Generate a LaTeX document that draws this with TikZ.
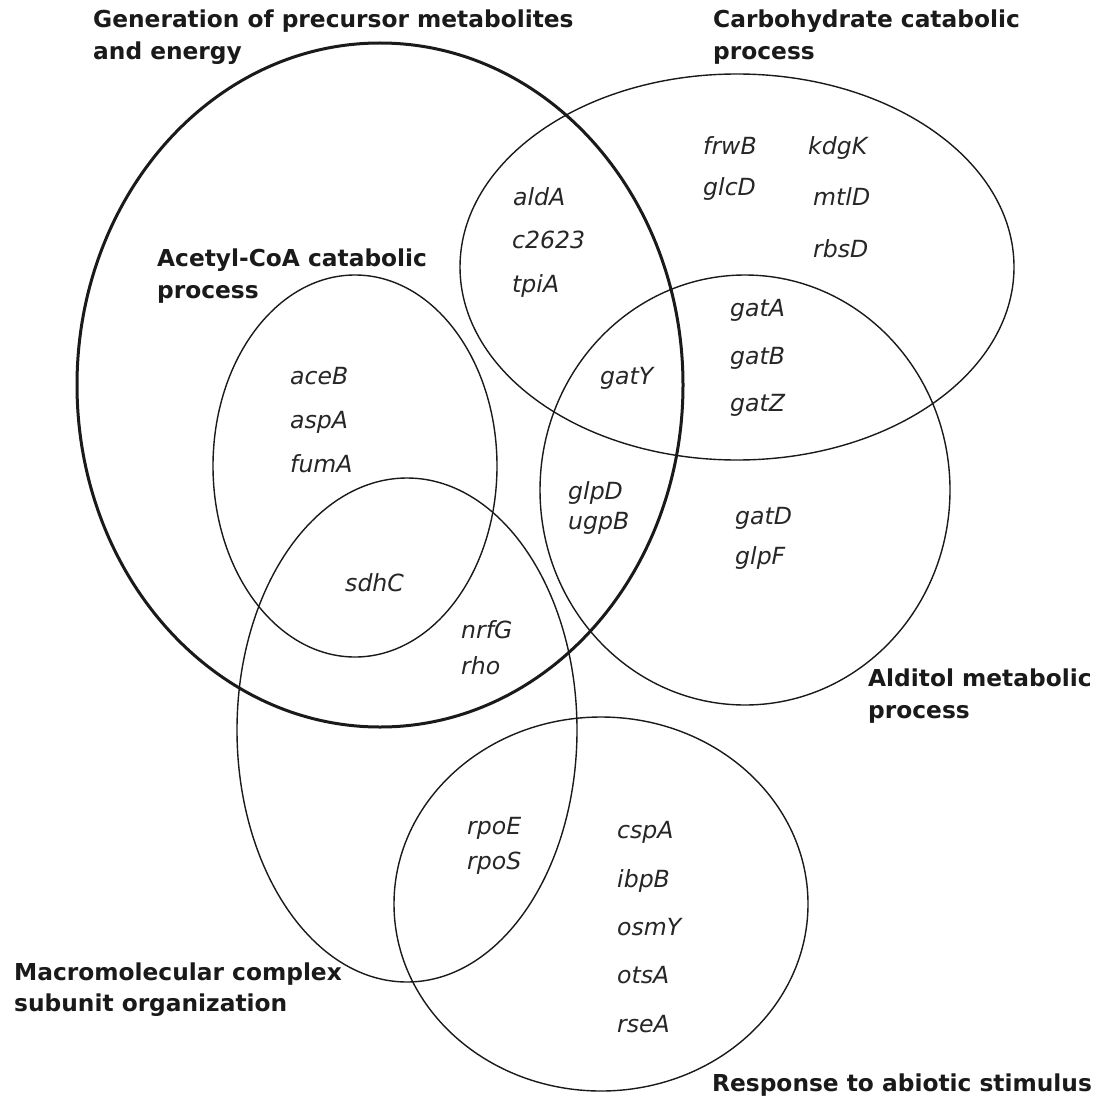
\documentclass[tikz,border=0pt]{standalone}
\usepackage{fontspec}
\setmainfont{DejaVu Sans}
\definecolor{ink}{HTML}{1A1A1A}
\definecolor{gene}{HTML}{262626}
\begin{document}
\begin{tikzpicture}[x=1pt,y=-1pt,
  setline/.style={draw=ink,line width=1.4pt},
  thickline/.style={draw=ink,line width=3pt},
  title/.style={anchor=base west,inner sep=0pt,text=ink,font=\fontsize{23.3}{28}\selectfont\bfseries},
  genelab/.style={anchor=base west,inner sep=0pt,text=gene,font=\fontsize{23.6}{28}\selectfont\itshape}]
\useasboundingbox[fill=white] (0,0) rectangle (1097,1102);
% centres
\coordinate (cGen) at (380,385);
\coordinate (cCarb) at (737,267);
\coordinate (cAce) at (355,466);
\coordinate (cAld) at (745,490);
\coordinate (cMac) at (407,730);
\coordinate (cResp) at (601,904);
% sets
\draw[thickline] (cGen) ellipse [x radius=303pt, y radius=342pt];
\draw[setline] (cCarb) ellipse [x radius=277pt, y radius=193pt];
\draw[setline] (cAce) ellipse [x radius=142pt, y radius=191pt];
\draw[setline] (cAld) ellipse [x radius=205pt, y radius=215pt];
\draw[setline] (cMac) ellipse [x radius=170pt, y radius=252pt];
\draw[setline] (cResp) ellipse [x radius=207pt, y radius=187pt];
% titles
\node[title] (tGenA) at (93,28) {Generation of precursor metabolites};
\node[title] (tGenB) at (93,60) {and energy};
\node[title] (tCarbA) at (713,28) {Carbohydrate catabolic};
\node[title] (tCarbB) at (713,60) {process};
\node[title] (tAceA) at (157,266) {Acetyl-CoA catabolic};
\node[title] (tAceB) at (157,298) {process};
\node[title] (tAldA) at (868,686) {Alditol metabolic};
\node[title] (tAldB) at (868,718) {process};
\node[title] (tMacA) at (14,980) {Macromolecular complex};
\node[title] (tMacB) at (14,1011) {subunit organization};
\node[title] (tResp) at (712,1091) {Response to abiotic stimulus};
% genes
\node[genelab] (frwB) at (703,155) {frwB};
\node[genelab] (glcD) at (703,196) {glcD};
\node[genelab] (kdgK) at (808,155) {kdgK};
\node[genelab] (mtlD) at (813,205) {mtlD};
\node[genelab] (rbsD) at (813,257) {rbsD};
\node[genelab] (aldA) at (513,205) {aldA};
\node[genelab] (c2623) at (512,248) {c2623};
\node[genelab] (tpiA) at (512,292) {tpiA};
\node[genelab] (gatA) at (730,316) {gatA};
\node[genelab] (gatB) at (730,364) {gatB};
\node[genelab] (gatZ) at (730,411) {gatZ};
\node[genelab] (gatY) at (600,384) {gatY};
\node[genelab] (aceB) at (290,384) {aceB};
\node[genelab] (aspA) at (290,428) {aspA};
\node[genelab] (fumA) at (290,472) {fumA};
\node[genelab] (sdhC) at (345,591) {sdhC};
\node[genelab] (nrfG) at (461,638) {nrfG};
\node[genelab] (rho) at (461,674) {rho};
\node[genelab] (glpD) at (568,499) {glpD};
\node[genelab] (ugpB) at (568,529) {ugpB};
\node[genelab] (gatD) at (735,524) {gatD};
\node[genelab] (glpF) at (735,564) {glpF};
\node[genelab] (rpoE) at (467,834) {rpoE};
\node[genelab] (rpoS) at (467,869) {rpoS};
\node[genelab] (cspA) at (617,838) {cspA};
\node[genelab] (ibpB) at (617,887) {ibpB};
\node[genelab] (osmY) at (617,935) {osmY};
\node[genelab] (otsA) at (617,983) {otsA};
\node[genelab] (rseA) at (617,1032) {rseA};
\end{tikzpicture}
\end{document}
